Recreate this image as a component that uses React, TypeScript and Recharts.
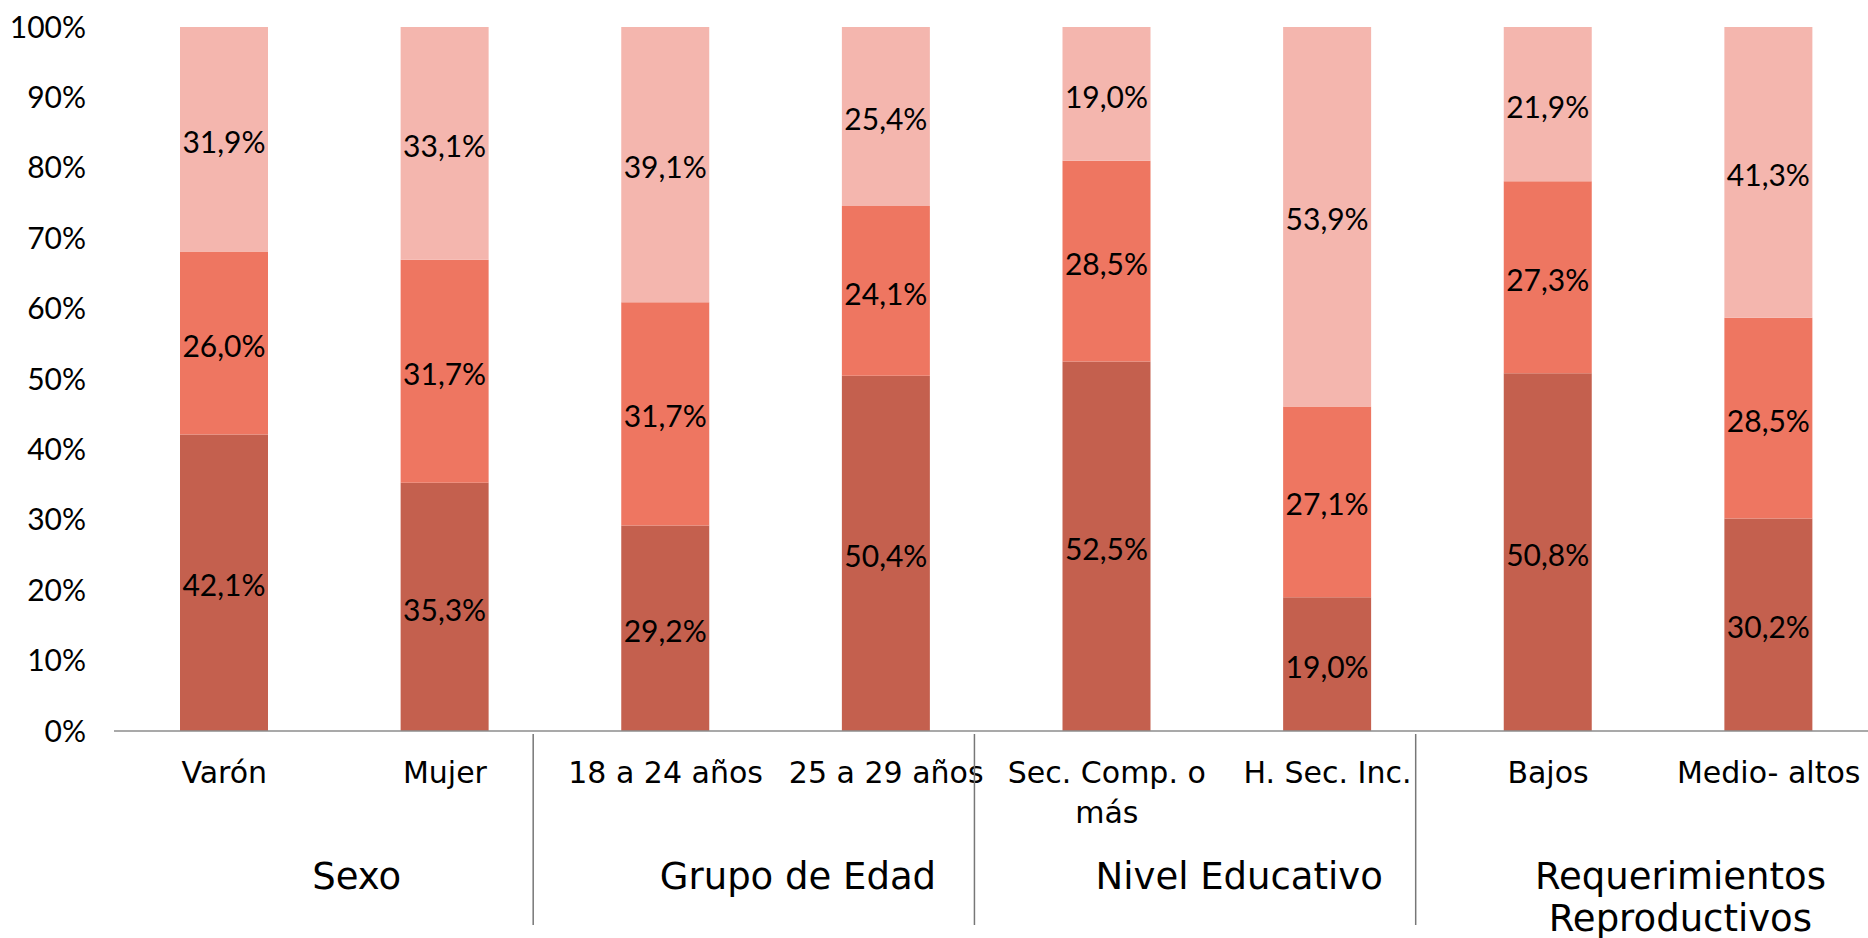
import React from "react";
import { BarChart, Bar, XAxis, YAxis, LabelList } from "recharts";

// categorias del eje (el "\n" corta la etiqueta en dos lineas)
const categories = [
  "Varón",
  "Mujer",
  "18 a 24 años",
  "25 a 29 años",
  "Sec. Comp. o\nmás",
  "H. Sec. Inc.",
  "Bajos",
  "Medio- altos",
];

// valores en %, de abajo hacia arriba
const bajo = [42.1, 35.3, 29.2, 50.4, 52.5, 19.0, 50.8, 30.2];
const medio = [26.0, 31.7, 31.7, 24.1, 28.5, 27.1, 27.3, 28.5];
const alto = [31.9, 33.1, 39.1, 25.4, 19.0, 53.9, 21.9, 41.3];

const groups = [
  { label: ["Sexo"], size: 2 },
  { label: ["Grupo de Edad"], size: 2 },
  { label: ["Nivel Educativo"], size: 2 },
  { label: ["Requerimientos", "Reproductivos"], size: 2 },
];

const yTicks = [0, 0.1, 0.2, 0.3, 0.4, 0.5, 0.6, 0.7, 0.8, 0.9, 1];

const data = categories.map((cat, i) => ({
  cat,
  bajo: bajo[i],
  medio: medio[i],
  alto: alto[i],
}));

const W = 1890;
const H = 938;
const margin = { top: 27, right: 11, left: 14, bottom: 0 };
const yAxisWidth = 100;
const BAND = (W - margin.left - margin.right - yAxisWidth) / categories.length;

const numFont = "Lato, sans-serif";
const textFont = "'DejaVu Sans', sans-serif";

const fmt = (v: any) => `${Number(v).toFixed(1).replace(".", ",")}%`;

function groupInfo(index: number) {
  let start = 0;
  for (let g = 0; g < groups.length; g++) {
    if (index < start + groups[g].size) return { g, start, size: groups[g].size };
    start += groups[g].size;
  }
  return { g: groups.length - 1, start: 0, size: 1 };
}

function CategoryTick(props: any) {
  const { x, y, payload } = props;
  const index = props.index ?? payload.index ?? 0;
  const lines = String(payload.value).split("\n");
  const { g, start, size } = groupInfo(index);
  const isFirst = index === start;
  const isLast = index === start + size - 1 && g < groups.length - 1;
  const gx = x + ((size - 1) / 2) * BAND + 0.1 * BAND;
  const dx = x + BAND / 2 - 0.1 * BAND;
  return (
    <g>
      <text
        x={x}
        y={y + 41}
        textAnchor="middle"
        fontFamily={textFont}
        fontSize={30}
        fill="#000"
      >
        {lines.map((l, i) => (
          <tspan key={i} x={x} dy={i === 0 ? "0.35em" : 40}>
            {l}
          </tspan>
        ))}
      </text>
      {isFirst && (
        <text
          x={gx}
          y={y + 145}
          textAnchor="middle"
          fontFamily={textFont}
          fontSize={37}
          fill="#000"
        >
          {groups[g].label.map((l, i) => (
            <tspan key={i} x={gx} dy={i === 0 ? "0.35em" : 42}>
              {l}
            </tspan>
          ))}
        </text>
      )}
      {isLast && (
        <line x1={dx} x2={dx} y1={y + 3} y2={y + 194} stroke="#777" strokeWidth={1.5} />
      )}
    </g>
  );
}

export default function App() {
  return (
    <div
      style={{
        position: "absolute",
        left: 0,
        top: 0,
        width: 1868,
        height: 938,
        overflow: "hidden",
        background: "#fff",
      }}
    >
      <BarChart
        width={W}
        height={H}
        data={data}
        margin={margin}
        stackOffset="expand"
        barSize={88}
      >
        <XAxis
          dataKey="cat"
          height={207}
          interval={0}
          tickLine={false}
          tickSize={0}
          tickMargin={0}
          axisLine={{ stroke: "#8c8c8c", strokeWidth: 1.5 }}
          tick={<CategoryTick />}
        />
        <YAxis
          type="number"
          domain={[0, 1]}
          ticks={yTicks}
          width={yAxisWidth}
          axisLine={false}
          tickLine={false}
          tickMargin={22}
          tickFormatter={(v) => `${Math.round(v * 100)}%`}
          tick={{ fontFamily: numFont, fontSize: 30, fill: "#000" }}
        />
        <Bar dataKey="bajo" stackId="a" fill="#C4604E" isAnimationActive={false}>
          <LabelList
            dataKey="bajo"
            position="center"
            formatter={fmt}
            fill="#000"
            fontFamily={numFont}
            fontSize={30}
            dy={3}
          />
        </Bar>
        <Bar dataKey="medio" stackId="a" fill="#EE7661" isAnimationActive={false}>
          <LabelList
            dataKey="medio"
            position="center"
            formatter={fmt}
            fill="#000"
            fontFamily={numFont}
            fontSize={30}
            dy={3}
          />
        </Bar>
        <Bar dataKey="alto" stackId="a" fill="#F4B6AE" isAnimationActive={false}>
          <LabelList
            dataKey="alto"
            position="center"
            formatter={fmt}
            fill="#000"
            fontFamily={numFont}
            fontSize={30}
            dy={3}
          />
        </Bar>
      </BarChart>
    </div>
  );
}
